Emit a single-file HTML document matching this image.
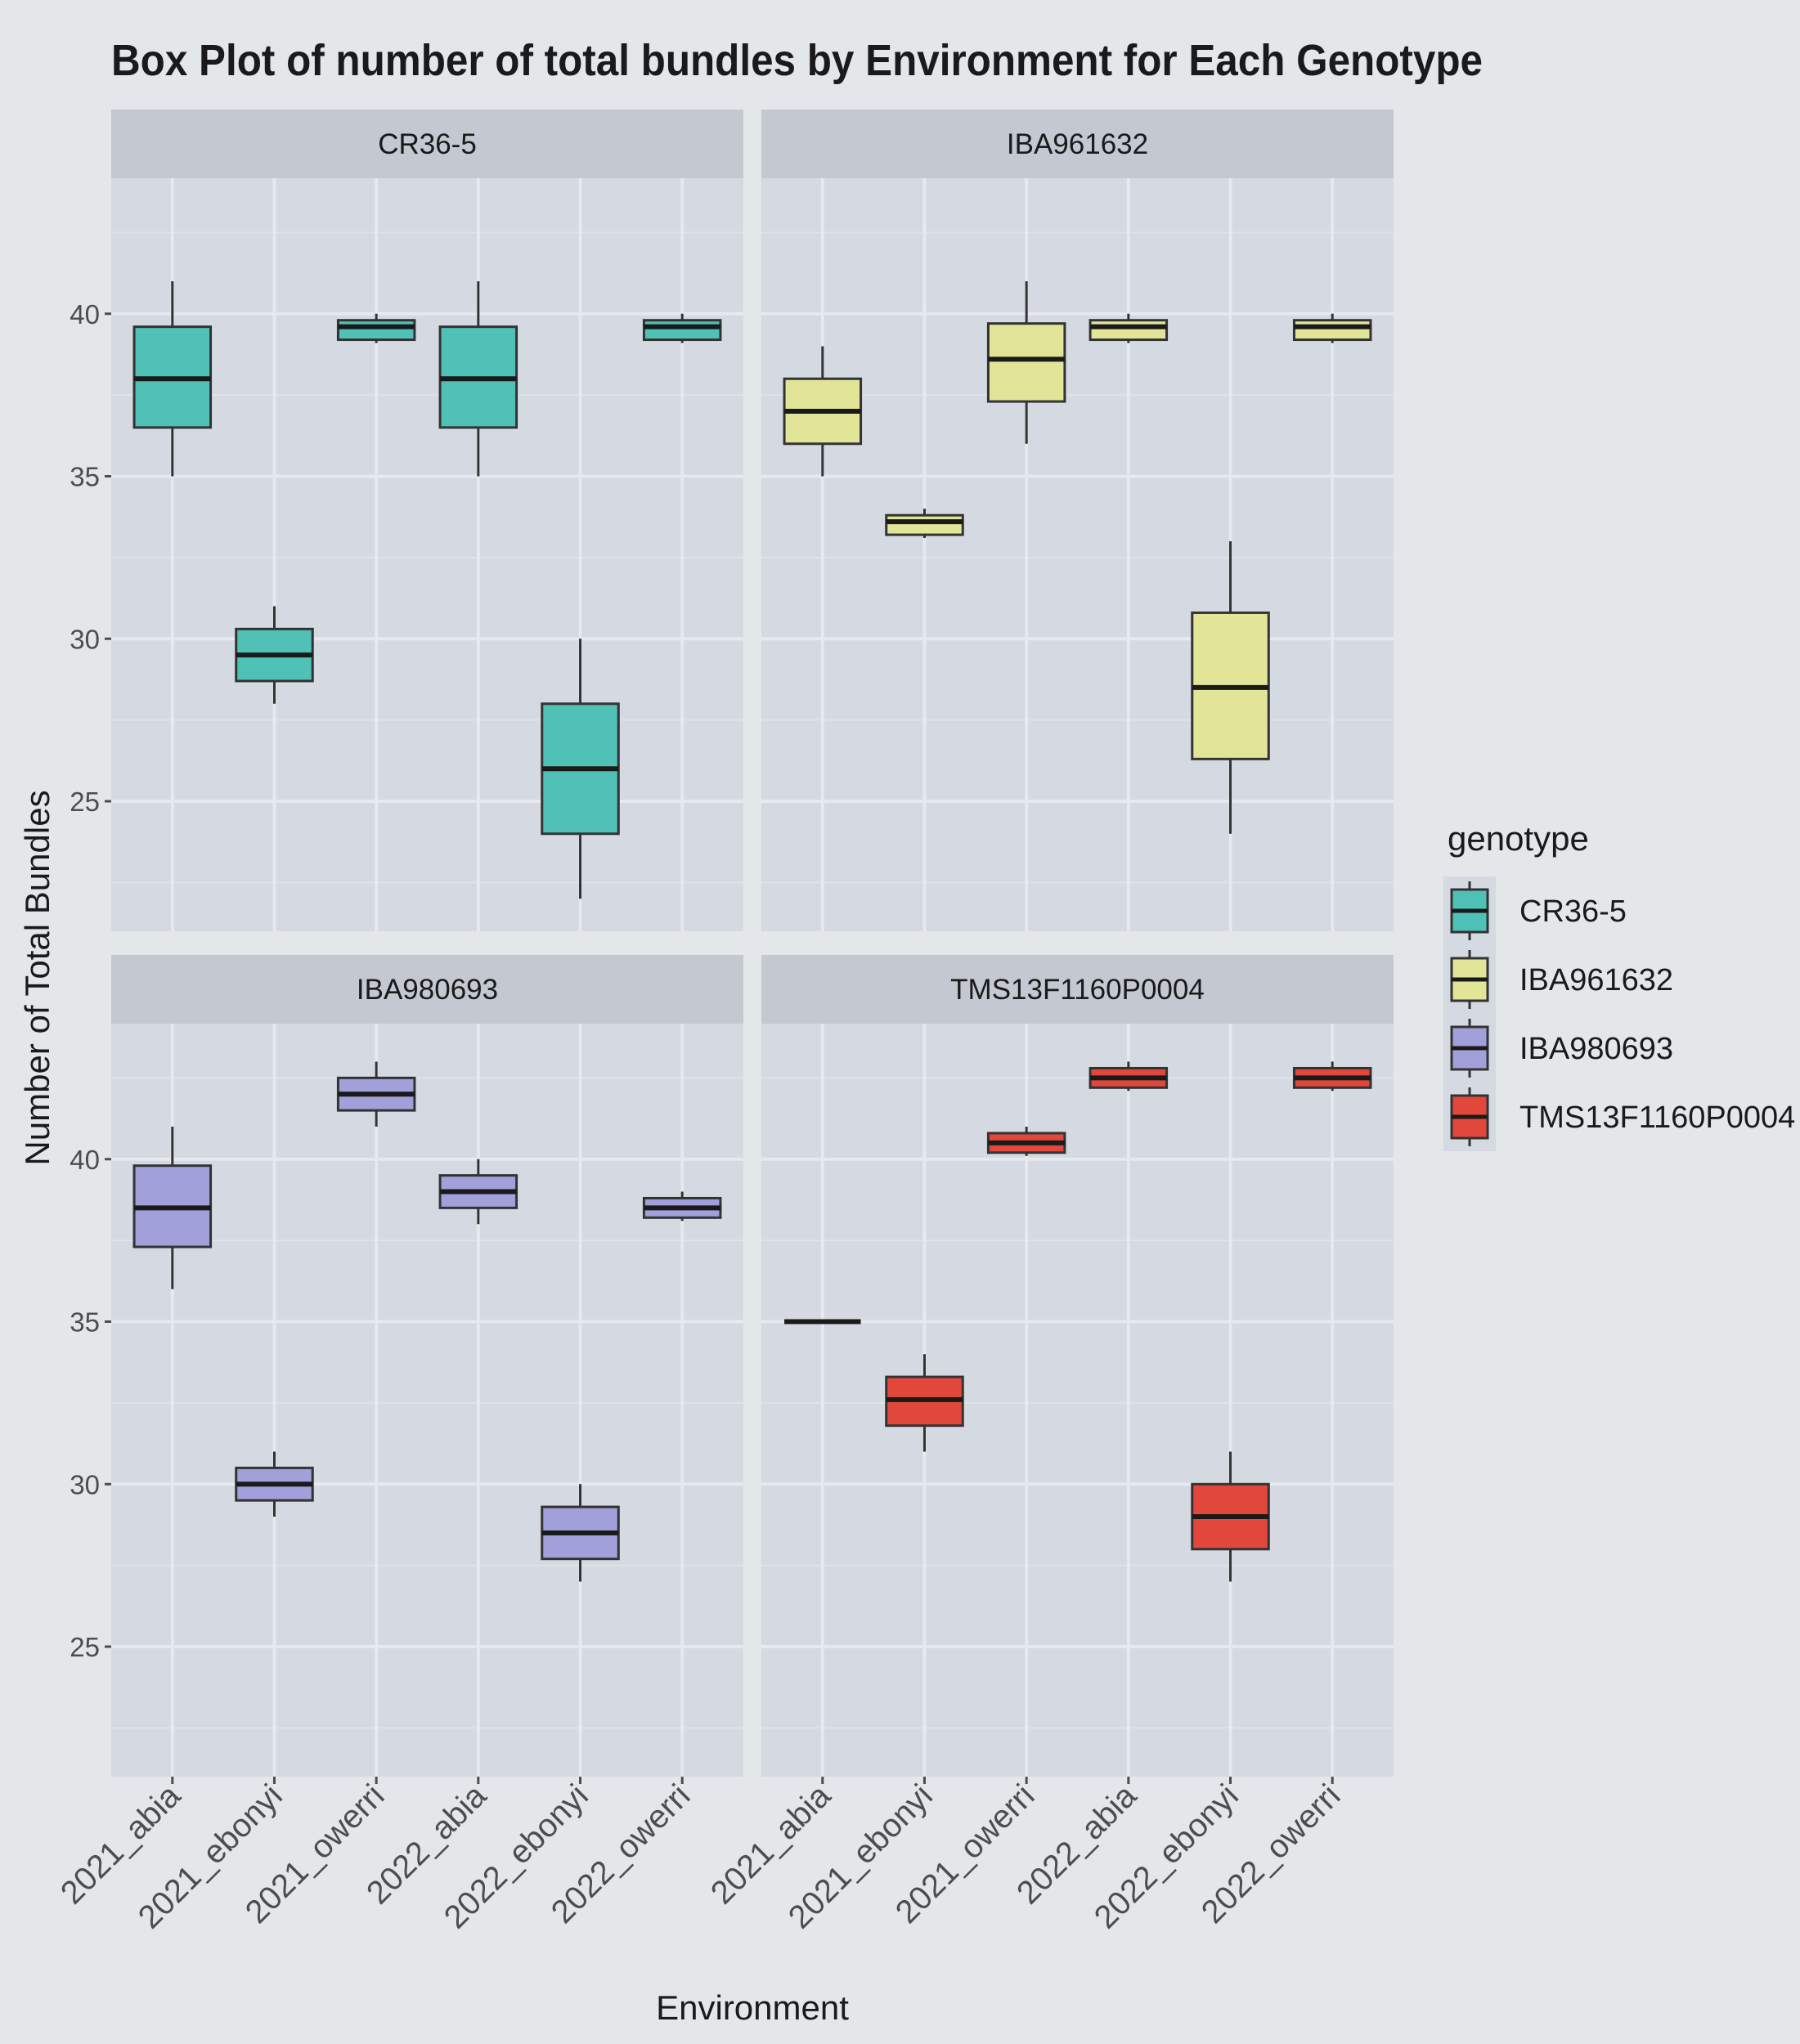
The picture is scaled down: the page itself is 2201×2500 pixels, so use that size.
<!DOCTYPE html>
<html><head><meta charset="utf-8"><style>
html,body{margin:0;padding:0;background:#e4e7e9;}
svg{display:block;font-family:"Liberation Sans",sans-serif;}
</style></head><body>
<svg id="chart" width="2201" height="2500" viewBox="0 0 2201 2500" xmlns="http://www.w3.org/2000/svg">
<rect x="0" y="0" width="2201" height="2500" fill="#e4e7e9"/>
<text x="136" y="92" font-size="54" font-weight="bold" fill="#1a1a1a" textLength="1677" lengthAdjust="spacingAndGlyphs">Box Plot of number of total bundles by Environment for Each Genotype</text>
<text transform="translate(60,1196) rotate(-90)" text-anchor="middle" font-size="42" fill="#1a1a1a">Number of Total Bundles</text>
<text x="920" y="2470" text-anchor="middle" font-size="42" fill="#1a1a1a">Environment</text>
<g id="panels"></g>
<g id="legend"></g>
</svg>
<script>
const categories = ["2021_abia","2021_ebonyi","2021_owerri","2022_abia","2022_ebonyi","2022_owerri"];
const genotypes = ["CR36-5","IBA961632","IBA980693","TMS13F1160P0004"];
const colors = ["#4fc1b6","#e2e598","#a1a0da","#e2473b"];
const yTicks = [25,30,35,40];
// [lowerWhisker, q1, median, q3, upperWhisker] per environment
const cr365 = [[35,36.5,38,39.6,41],[28,28.7,29.5,30.3,31],[39.1,39.2,39.6,39.8,40],[35,36.5,38,39.6,41],[22,24,26,28,30],[39.1,39.2,39.6,39.8,40]];
const iba961632 = [[35,36,37,38,39],[33.1,33.2,33.6,33.8,34],[36,37.3,38.6,39.7,41],[39.1,39.2,39.6,39.8,40],[24,26.3,28.5,30.8,33],[39.1,39.2,39.6,39.8,40]];
const iba980693 = [[36,37.3,38.5,39.8,41],[29,29.5,30,30.5,31],[41,41.5,42,42.5,43],[38,38.5,39,39.5,40],[27,27.7,28.5,29.3,30],[38.1,38.2,38.5,38.8,39]];
const tms13 = [[35,35,35,35,35],[31,31.8,32.6,33.3,34],[40.1,40.2,40.5,40.8,41],[42.1,42.2,42.5,42.8,43],[27,28,29,30,31],[42.1,42.2,42.5,42.8,43]];
const series = [cr365, iba961632, iba980693, tms13];

const NS="http://www.w3.org/2000/svg";
const yMin=21.0, yMax=44.17;
const panelW=773, panelH=921;
const panelX=[136,931], plotY=[218,1252], stripH=84;
function mk(tag, attrs, parent){const e=document.createElementNS(NS,tag);for(const k in attrs)e.setAttribute(k,attrs[k]);parent.appendChild(e);return e;}
function yScale(v,top){return top+(yMax-v)/(yMax-yMin)*panelH;}
function xScale(i,left){const step=panelW/(categories.length-1+1.2);return left+(0.6+i)*step;}
const root=document.getElementById('panels');
const step=panelW/(categories.length+0.2);
for(let p=0;p<4;p++){
  const col=p%2,row=Math.floor(p/2);
  const left=panelX[col], top=plotY[row];
  const g=mk('g',{},root);
  
  
  const strip=mk('rect',{x:left,y:top-stripH,width:panelW,height:stripH,fill:'#c3c8d1'},g);
  
  
  const st=mk('text',{x:left+panelW/2,y:top-stripH/2+12,'text-anchor':'middle','font-size':35,fill:'#1a1a1a'},g);
  st.textContent=genotypes[p];
  
  
  const bg=mk('rect',{x:left,y:top,width:panelW,height:panelH,fill:'#d5d9e1'},g);
  
  
  for(let v=22.5;v<yMax;v+=5){mk('line',{x1:left,x2:left+panelW,y1:yScale(v,top),y2:yScale(v,top),stroke:'#dfe2e8','stroke-width':2},g);}
  yTicks.forEach(v=>{const y=yScale(v,top);mk('line',{x1:left,x2:left+panelW,y1:y,y2:y,stroke:'#e6e9ed','stroke-width':4},g);
    if(col===0){mk('line',{x1:left-8,x2:left,y1:y,y2:y,stroke:'#4d4d4d','stroke-width':3},root);
      const t=mk('text',{x:left-14,y:y+12,'text-anchor':'end','font-size':33,fill:'#4d4d4d'},root);t.textContent=v;
      
      }});
  categories.forEach((c,i)=>{const x=xScale(i,left);
    mk('line',{x1:x,x2:x,y1:top,y2:top+panelH,stroke:'#e6e9ed','stroke-width':4},g);
    if(row===1){mk('line',{x1:x,x2:x,y1:top+panelH,y2:top+panelH+9,stroke:'#4d4d4d','stroke-width':3},root);
      const t=mk('text',{transform:`translate(${x+12},${top+panelH+26}) rotate(-45)`,'text-anchor':'end','font-size':40,fill:'#4d4d4d'},root);t.textContent=c;
      
      }});
  series[p].forEach((d,i)=>{const x=xScale(i,left), bw=step*0.75;
    const bx=mk('g',{},g);
    
    
    mk('line',{x1:x,x2:x,y1:yScale(d[0],top),y2:yScale(d[4],top),stroke:'#333','stroke-width':3},bx);
    mk('rect',{x:x-bw/2,y:yScale(d[3],top),width:bw,height:Math.max(0,yScale(d[1],top)-yScale(d[3],top)),fill:colors[p],stroke:'#333','stroke-width':3},bx);
    mk('line',{x1:x-bw/2,x2:x+bw/2,y1:yScale(d[2],top),y2:yScale(d[2],top),stroke:'#1a1a1a','stroke-width':6},bx);
  });
}
const lg=document.getElementById('legend');
const lt=mk('text',{x:1770,y:1040,'font-size':42,fill:'#1a1a1a'},lg);lt.textContent='genotype';


mk('rect',{x:1765,y:1072,width:64,height:336,fill:'#d5d9e1'},lg);
genotypes.forEach((gname,i)=>{const cy=1114+i*84;
  const e=mk('g',{},lg);
  
  
  mk('line',{x1:1797,x2:1797,y1:cy-36,y2:cy+36,stroke:'#333','stroke-width':3},e);
  mk('rect',{x:1775,y:cy-26,width:44,height:52,fill:colors[i],stroke:'#333','stroke-width':3},e);
  mk('line',{x1:1775,x2:1819,y1:cy,y2:cy,stroke:'#1a1a1a','stroke-width':5},e);
  const t=mk('text',{x:1858,y:cy+13,'font-size':38,fill:'#1a1a1a'},e);t.textContent=gname;
});
</script>
</body></html>
